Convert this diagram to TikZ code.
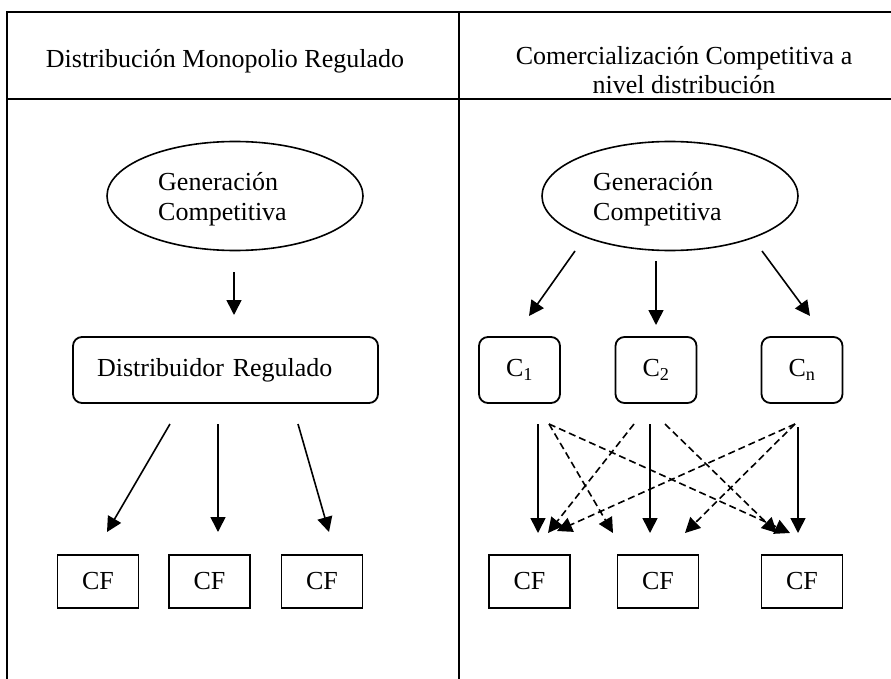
\documentclass[tikz,border=0pt]{standalone}
\usepackage{fontspec}
\setmainfont{Liberation Serif}
\usetikzlibrary{arrows.meta,shapes.geometric}
\begin{document}
\begin{tikzpicture}[x=1pt,y=-1pt,
  txt/.style={font=\fontsize{26}{30}\selectfont, inner sep=0pt},
  rule/.style={line width=2pt},
  oval/.style={draw, ellipse, line width=1.6pt, minimum width=256pt, minimum height=109pt, inner sep=0pt},
  rbox/.style={draw, rounded corners=9pt, line width=1.8pt, minimum height=66pt, txt},
  cbox/.style={rbox, minimum width=81pt},
  cfbox/.style={draw, line width=1.8pt, minimum width=81pt, minimum height=53pt, txt},
  arr/.style={line width=1.6pt, -{Triangle[length=15pt,width=15pt]}},
  dsh/.style={arr, dash pattern=on 7pt off 4pt}]
\useasboundingbox (0,0) rectangle (891,679);

% table frame
\draw[rule] (891,12) -- (7,12) -- (7,679);
\draw[rule] (7,99) -- (891,99);
\draw[rule] (459,12) -- (459,679);

% column headings
\node[txt, anchor=base] (hdrL) at (225,68) {Distribución Monopolio Regulado};
\node[txt, anchor=base] (hdrR1) at (684,65) {Comercialización Competitiva a};
\node[txt, anchor=base] (hdrR2) at (684,94) {nivel distribución};

% ---- left column: regulated monopoly ----
\node[oval] (genL) at (235,196) {};
\node[txt, align=left, anchor=west] (genLt) at (158,199) {Generación\\Competitiva};
\node[rbox, text width=257pt, inner xsep=24pt, align=left] (dist) at (225.5,370) {Distribuidor Regulado};
\node[cfbox] (cfL1) at (98,581.5) {CF};
\node[cfbox] (cfL2) at (209.5,581.5) {CF};
\node[cfbox] (cfL3) at (322,581.5) {CF};

\coordinate (gLs) at (234,272);  \coordinate (gLe) at (234,315);
\coordinate (dA1) at (170,424);  \coordinate (fA1) at (107,532);
\coordinate (dA2) at (218,424);  \coordinate (fA2) at (218,532);
\coordinate (dA3) at (298,424);  \coordinate (fA3) at (329,532);
\draw[arr] (gLs) -- (gLe);
\draw[arr] (dA1) -- (fA1);
\draw[arr] (dA2) -- (fA2);
\draw[arr] (dA3) -- (fA3);

% ---- right column: competitive retail ----
\node[oval] (genR) at (670,196) {};
\node[txt, align=left, anchor=west] (genRt) at (593,199) {Generación\\Competitiva};
\node[cbox] (c1) at (519.5,370) {C\textsubscript{1}};
\node[cbox] (c2) at (656,370) {C\textsubscript{2}};
\node[cbox] (cn) at (802,370) {C\textsubscript{n}};
\node[cfbox] (cfR1) at (529.5,581.5) {CF};
\node[cfbox] (cfR2) at (658,581.5) {CF};
\node[cfbox] (cfR3) at (802,581.5) {CF};

% generation to retailers
\coordinate (gR1s) at (575,251); \coordinate (gR1e) at (529,316);
\coordinate (gR2s) at (656,261); \coordinate (gR2e) at (656,325);
\coordinate (gR3s) at (762,251); \coordinate (gR3e) at (810,316);
\draw[arr] (gR1s) -- (gR1e);
\draw[arr] (gR2s) -- (gR2e);
\draw[arr] (gR3s) -- (gR3e);

% retailer outlets
\coordinate (c1s) at (538,424);  \coordinate (c1d) at (549,424);
\coordinate (c2l) at (634,424);  \coordinate (c2s) at (650,424);  \coordinate (c2r) at (665,424);
\coordinate (cnd) at (795,424);  \coordinate (cns) at (798,427);
% customer inlets
\coordinate (f1a) at (538,533);  \coordinate (f1b) at (548,533);  \coordinate (f1c) at (557,531);
\coordinate (f2a) at (613,533);  \coordinate (f2b) at (650,533);  \coordinate (f2c) at (685,533);
\coordinate (f3a) at (777,533);  \coordinate (f3b) at (790,533);  \coordinate (f3c) at (798,533);

\draw[arr] (c1s) -- (f1a);
\draw[dsh] (c1d) -- (f2a);
\draw[dsh] (c1d) -- (f3b);
\draw[dsh] (c2l) -- (f1b);
\draw[arr] (c2s) -- (f2b);
\draw[dsh] (c2r) -- (f3a);
\draw[dsh] (cnd) -- (f1c);
\draw[dsh] (cnd) -- (f2c);
\draw[arr] (cns) -- (f3c);
\end{tikzpicture}
\end{document}
